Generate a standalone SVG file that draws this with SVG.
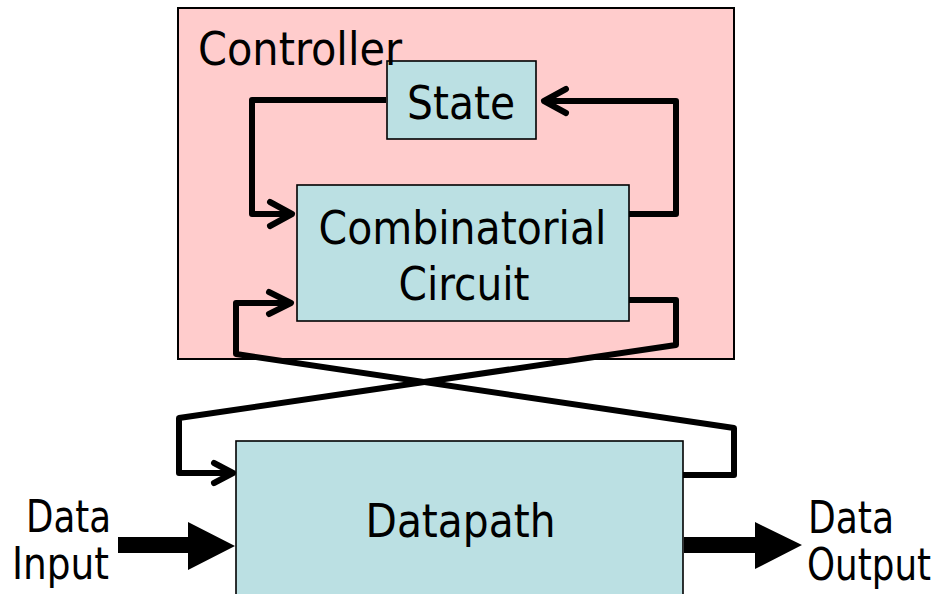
<svg xmlns="http://www.w3.org/2000/svg" width="939" height="594" viewBox="0 0 939 594">
  <style>
    .box { stroke: #000; stroke-width: 1.6; }
    .ctrl { fill: #FFCCCC; stroke: #000; stroke-width: 2; }
    .blue { fill: #BBE0E3; }
    .wire { fill: none; stroke: #000; stroke-width: 6; stroke-linejoin: round; stroke-linecap: butt; }
    .head { fill: none; stroke: #000; stroke-width: 6; stroke-linejoin: round; stroke-linecap: round; }
    .big { fill: #000; }
    text { font-family: "DejaVu Sans Condensed", "DejaVu Sans", sans-serif; font-stretch: condensed; font-size: 47px; fill: #000; }
    .side { font-size: 44px; }
  </style>
  <rect width="939" height="594" fill="#fff"/>
  <g id="controller">
    <rect class="ctrl" x="178" y="8" width="556" height="351"/>
  </g>
  <g id="state">
    <rect class="box blue" x="387" y="61" width="149" height="78"/>
    <text x="461" y="119" text-anchor="middle" textLength="108" lengthAdjust="spacingAndGlyphs">State</text>
  </g>
  <g id="comb">
    <rect class="box blue" x="297" y="185" width="332" height="136"/>
    <text x="462.5" y="244" text-anchor="middle" textLength="288" lengthAdjust="spacingAndGlyphs">Combinatorial</text>
    <text x="464" y="300" text-anchor="middle" textLength="131" lengthAdjust="spacingAndGlyphs">Circuit</text>
  </g>
  <g id="datapath">
    <rect class="box blue" x="236" y="441" width="447" height="160"/>
    <text x="460.5" y="537" text-anchor="middle" textLength="190" lengthAdjust="spacingAndGlyphs">Datapath</text>
  </g>
  <g id="connectors">
    <path class="wire" d="M386,100 H252 V214 H290"/>
    <path class="head" d="M270,202 L292,214 L270,226"/>
    <path class="wire" d="M629,214 H676 V101 H546"/>
    <path class="head" d="M566,89 L544,101 L566,113"/>
    <path class="wire" d="M629,300 H676 V345 L179,418 V473 H231"/>
    <path class="head" d="M214,463 L233,473 L214,483"/>
    <path class="wire" d="M683,475 H734 V428 L236,354 V303 H290"/>
    <path class="head" d="M269,292 L291,303 L269,314"/>
    <polygon class="big" points="118,537 188,537 188,522 235,546 188,570 188,553 118,553"/>
    <polygon class="big" points="684,537 755,537 755,522 802,545 755,569 755,553 684,553"/>
  </g>
  <g id="labels">
    <text x="198" y="65" textLength="204" lengthAdjust="spacingAndGlyphs">Controller</text>
    <text class="side" x="26" y="532" textLength="85" lengthAdjust="spacingAndGlyphs">Data</text>
    <text class="side" x="12" y="579" textLength="97" lengthAdjust="spacingAndGlyphs">Input</text>
    <text class="side" x="808" y="533" textLength="86" lengthAdjust="spacingAndGlyphs">Data</text>
    <text class="side" x="807" y="580" textLength="124" lengthAdjust="spacingAndGlyphs">Output</text>
  </g>
</svg>
